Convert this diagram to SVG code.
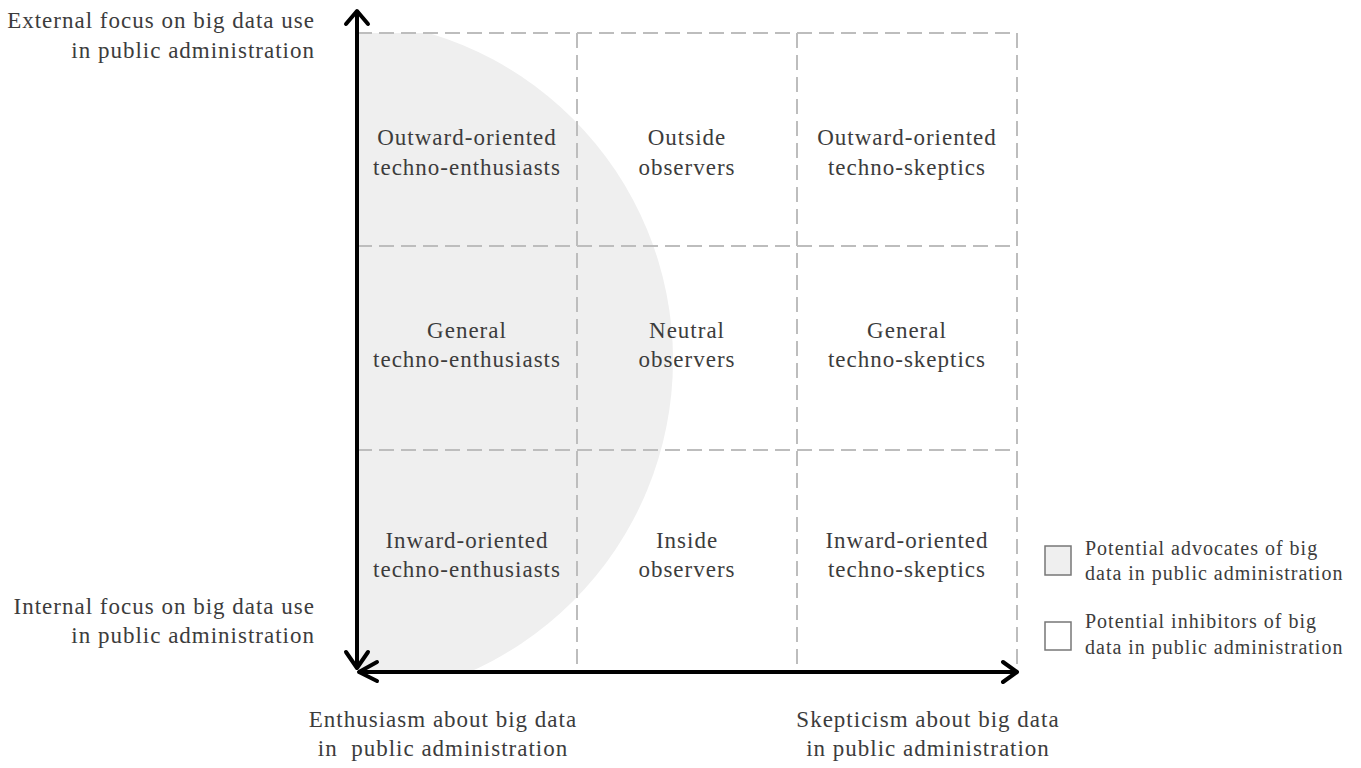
<svg xmlns="http://www.w3.org/2000/svg" width="1361" height="768" viewBox="0 0 1361 768">
<style>
text{font-family:"Liberation Serif","Times New Roman",serif;font-size:23px;fill:#3c3c3c;letter-spacing:1px}
.c{text-anchor:middle}
.r{text-anchor:end}
.lg{font-size:20px;letter-spacing:1px}
.grid{stroke:#bdbdbd;stroke-width:2;stroke-dasharray:15 7;fill:none}
.axis{stroke:#000;stroke-width:4;fill:none;stroke-linecap:round;stroke-linejoin:round}
</style>
<defs>
<clipPath id="gridclip"><rect x="357" y="33" width="660" height="639"/></clipPath>
</defs>
<rect width="1361" height="768" fill="#fff"/>
<g id="advocate-zone">
<circle cx="332" cy="360" r="341" fill="#efefef" clip-path="url(#gridclip)"/>
</g>
<g id="grid">
<line class="grid" x1="357" y1="33" x2="1017" y2="33"/>
<line class="grid" x1="357" y1="246" x2="1017" y2="246"/>
<line class="grid" x1="357" y1="450" x2="1017" y2="450"/>
<line class="grid" x1="577" y1="33" x2="577" y2="672"/>
<line class="grid" x1="797" y1="33" x2="797" y2="672"/>
<line class="grid" x1="1017" y1="33" x2="1017" y2="672"/>
</g>
<g id="connectors">
<line class="axis" x1="357" y1="12" x2="357" y2="666"/>
<polyline class="axis" points="346,24 357,11 368,24"/>
<polyline class="axis" points="346,652 357,668 368,652"/>
<line class="axis" x1="360" y1="672" x2="1015" y2="672"/>
<polyline class="axis" points="377,662 359,672 377,681"/>
<polyline class="axis" points="1003,662 1017,672 1003,682"/>
</g>
<g id="label-external"><text class="r" x="315" y="28">External focus on big data use</text><text class="r" x="315" y="58">in public administration</text></g>
<g id="label-internal"><text class="r" x="315" y="614">Internal focus on big data use</text><text class="r" x="315" y="643">in public administration</text></g>
<g id="label-enthusiasm"><text class="c" x="443" y="727">Enthusiasm about big data</text><text class="c" x="443" y="756" xml:space="preserve">in  public administration</text></g>
<g id="label-skepticism"><text class="c" x="928" y="727">Skepticism about big data</text><text class="c" x="928" y="756">in public administration</text></g>
<g id="cell-outward-enthusiasts"><text class="c" x="467" y="145">Outward-oriented</text><text class="c" x="467" y="175">techno-enthusiasts</text></g>
<g id="cell-outside-observers"><text class="c" x="687" y="145">Outside</text><text class="c" x="687" y="175">observers</text></g>
<g id="cell-outward-skeptics"><text class="c" x="907" y="145">Outward-oriented</text><text class="c" x="907" y="175">techno-skeptics</text></g>
<g id="cell-general-enthusiasts"><text class="c" x="467" y="338">General</text><text class="c" x="467" y="367">techno-enthusiasts</text></g>
<g id="cell-neutral-observers"><text class="c" x="687" y="338">Neutral</text><text class="c" x="687" y="367">observers</text></g>
<g id="cell-general-skeptics"><text class="c" x="907" y="338">General</text><text class="c" x="907" y="367">techno-skeptics</text></g>
<g id="cell-inward-enthusiasts"><text class="c" x="467" y="548">Inward-oriented</text><text class="c" x="467" y="577">techno-enthusiasts</text></g>
<g id="cell-inside-observers"><text class="c" x="687" y="548">Inside</text><text class="c" x="687" y="577">observers</text></g>
<g id="cell-inward-skeptics"><text class="c" x="907" y="548">Inward-oriented</text><text class="c" x="907" y="577">techno-skeptics</text></g>
<g id="legend-advocates"><rect x="1045" y="546" width="26" height="29" fill="#efefef" stroke="#777" stroke-width="1.5"/><text class="lg" x="1085" y="555">Potential advocates of big</text><text class="lg" x="1085" y="580">data in public administration</text></g>
<g id="legend-inhibitors"><rect x="1045" y="622" width="26" height="28" fill="#fff" stroke="#777" stroke-width="1.5"/><text class="lg" x="1085" y="628">Potential inhibitors of big</text><text class="lg" x="1085" y="654">data in public administration</text></g>
</svg>
